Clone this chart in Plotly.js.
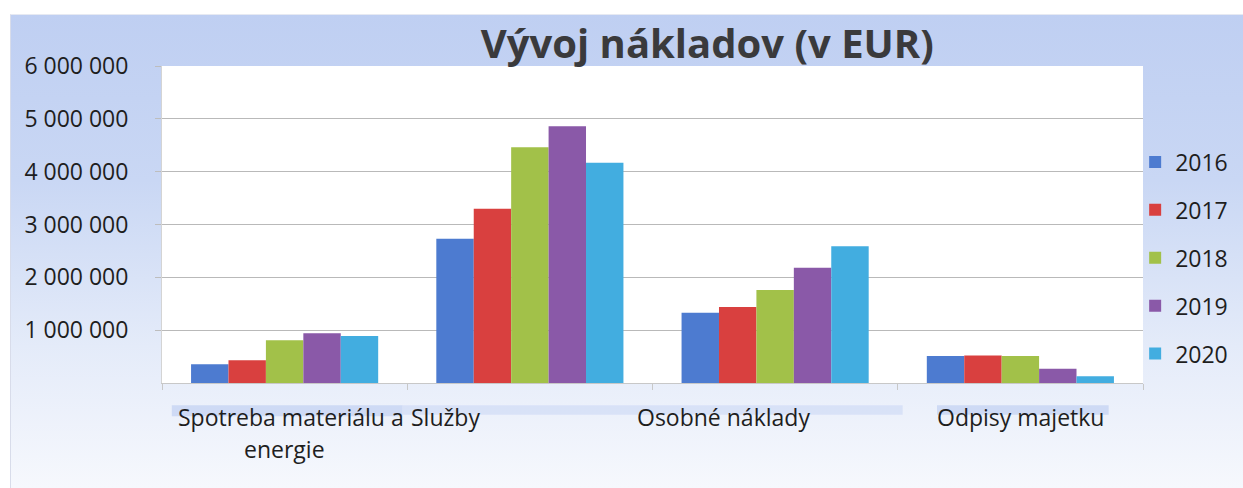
<!DOCTYPE html>
<html>
<head>
<meta charset="utf-8">
<script src="https://cdn.plot.ly/plotly-3.0.1.min.js"></script>
<style>
  html, body { margin: 0; padding: 0; background: #ffffff; }
  #wrap { position: relative; width: 1243px; height: 488px; overflow: hidden; }
  #bg { position: absolute; left: 10px; top: 14px; right: 0; bottom: 0;
        background: linear-gradient(to bottom, #bfcff2 0%, #c9d7f4 35%, #e4ebf9 70%, #f6f8fd 100%);
        border-left: 1px solid #d8dcea; border-top: 1px solid #e6e9f2; }
  #chart { position: absolute; left: 0; top: 0; width: 1243px; height: 488px; }
</style>
</head>
<body>
<div id="wrap">
  <div id="bg"></div>
  <div id="chart"></div>
</div>
<script>
// ---- data ----
const categories = ["Spotreba materiálu a energie", "Služby", "Osobné náklady", "Odpisy majetku"];
const categoryLabelLines = [["Spotreba materiálu a", "energie"], ["Služby"], ["Osobné náklady"], ["Odpisy majetku"]];
const years = ["2016", "2017", "2018", "2019", "2020"];
const values2016 = [355000, 2730000, 1330000, 510000];
const values2017 = [430000, 3300000, 1440000, 520000];
const values2018 = [810000, 4460000, 1760000, 510000];
const values2019 = [940000, 4860000, 2180000, 270000];
const values2020 = [890000, 4170000, 2590000, 130000];
const yTickValues = [1000000, 2000000, 3000000, 4000000, 5000000, 6000000];
const chartTitle = "Vývoj nákladov (v EUR)";

// ---- styles ----
const seriesValues = [values2016, values2017, values2018, values2019, values2020];
const seriesColors = ["#4d7bd0", "#d9403f", "#a2c149", "#8a59a8", "#42ade0"];
const labelShift = [[6, 0], [-84], [-52], [0]];
const FONT = "Open Sans, Noto Sans, sans-serif";

const traces = years.map((yr, i) => ({
  type: "bar",
  name: yr,
  x: categories,
  y: seriesValues[i],
  marker: { color: seriesColors[i], line: { width: 0 } },
  legendgroup: yr,
  hoverinfo: "x+y+name"
}));

const annotations = [];
categoryLabelLines.forEach((lines, ci) => {
  lines.forEach((txt, li) => {
    annotations.push({
      xref: "x", yref: "paper",
      x: categories[ci], y: 0,
      xanchor: "center", yanchor: "middle",
      xshift: labelShift[ci][li], yshift: -34 - li * 32,
      text: txt, showarrow: false,
      font: { family: FONT, size: 23, color: "#1e1e1e" }
    });
  });
});

const layout = {
  width: 1243, height: 488,
  margin: { l: 162, r: 100, t: 66, b: 105, pad: 0, autoexpand: false },
  paper_bgcolor: "rgba(0,0,0,0)",
  plot_bgcolor: "#ffffff",
  separators: ", ",
  title: {
    text: "<b>" + chartTitle + "</b>",
    xref: "container", yref: "container",
    x: 0.569, y: 0.91, xanchor: "center", yanchor: "middle",
    font: { family: FONT, size: 40, color: "#3a3a3c" }
  },
  barmode: "group",
  bargap: 0.237,
  bargroupgap: 0,
  xaxis: {
    type: "category",
    showticklabels: false,
    showgrid: false,
    showline: true, linecolor: "#c8c8c8", linewidth: 1,
    ticks: "outside", tickson: "boundaries", ticklen: 6, tickcolor: "#c8c8c8",
    fixedrange: true
  },
  yaxis: {
    range: [0, 6000000],
    tickvals: yTickValues,
    tickformat: ",d",
    showgrid: true, gridcolor: "#b9b9b9", gridwidth: 1,
    zeroline: false,
    showline: true, linecolor: "#d4d4d4", linewidth: 1,
    ticks: "outside", ticklen: 6, tickcolor: "#bdbdbd",
    ticklabelstandoff: 22,
    tickfont: { family: FONT, size: 23, color: "#1e1e1e" },
    fixedrange: true
  },
  legend: {
    x: 0.992, xanchor: "left",
    y: 0.765, yanchor: "top",
    bgcolor: "rgba(0,0,0,0)",
    font: { family: FONT, size: 23, color: "#1e1e1e" },
    traceorder: "grouped",
    tracegroupgap: 15,
    itemwidth: 30
  },
  annotations: annotations,
  shapes: [
    { type: "rect", xref: "paper", yref: "paper", x0: 0.01, x1: 0.245, y0: -0.07, y1: -0.105, line: { width: 0 }, fillcolor: "rgba(170,190,238,0.45)", layer: "below" },
    { type: "rect", xref: "paper", yref: "paper", x0: 0.245, x1: 0.755, y0: -0.07, y1: -0.1, line: { width: 0 }, fillcolor: "rgba(180,198,240,0.35)", layer: "below" },
    { type: "rect", xref: "paper", yref: "paper", x0: 0.79, x1: 0.965, y0: -0.07, y1: -0.1, line: { width: 0 }, fillcolor: "rgba(170,190,238,0.45)", layer: "below" }
  ],
  showlegend: true
};

Plotly.newPlot("chart", traces, layout, { displayModeBar: false, staticPlot: true });
</script>
</body>
</html>
